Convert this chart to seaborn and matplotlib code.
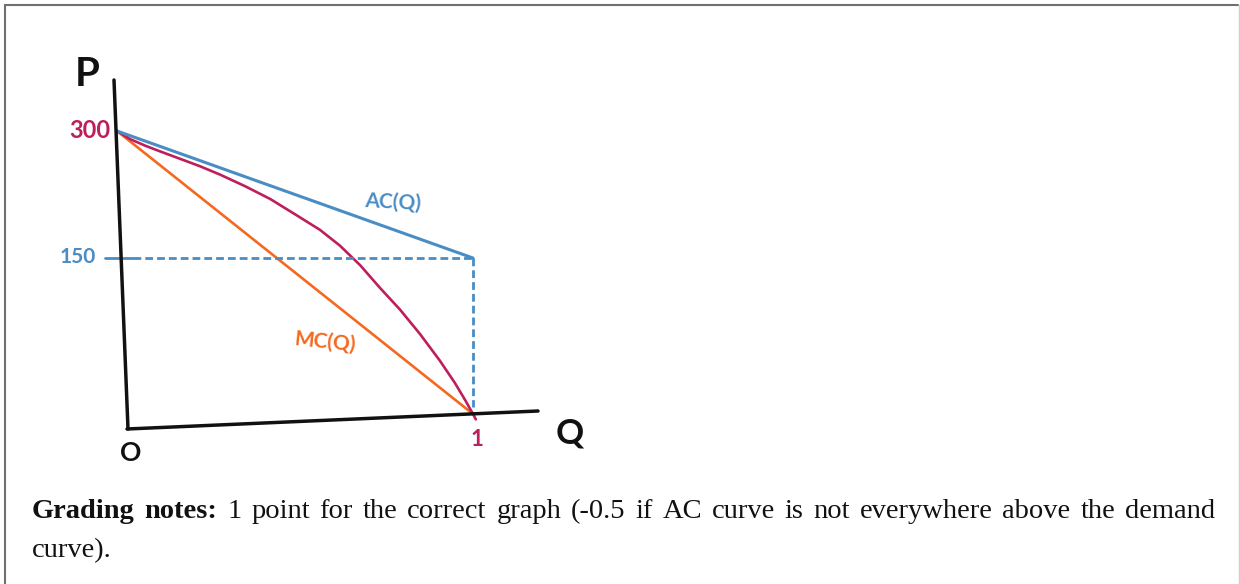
import numpy as np
import pandas as pd
import matplotlib
matplotlib.use("Agg")
import matplotlib.pyplot as plt
import matplotlib.transforms as mtransforms
import seaborn as sns

# ---- data: price P against quantity Q ----
mc_q = [0.0, 1.0]
mc_p = [300, 0]

ac_q = [0.0, 1.0]
ac_p = [300, 150]

demand_q = [0.0, 0.037, 0.079, 0.121, 0.177, 0.233, 0.289, 0.360, 0.430,
            0.500, 0.570, 0.626, 0.683, 0.739, 0.795, 0.851, 0.907, 0.949,
            0.978, 1.0, 1.008]
demand_p = [300, 290, 282, 275, 266, 257, 247, 233, 218,
            200, 182, 164, 142, 117, 94, 69, 43, 23,
            9, 0, -3]

price_tick_values = [300, 150]
price_tick_labels = ["300", "150"]
quantity_tick_value = 1
quantity_tick_label = "1"
origin_label = "O"
p_axis_label = "P"
q_axis_label = "Q"
ac_label = "AC(Q)"
mc_label = "MC(Q)"

note_bold = "Grading notes:"
note_line1 = "1 point for the correct graph (-0.5 if AC curve is not everywhere above the demand"
note_line2 = "curve)."

# ---- style ----
sns.set_style("white")
plt.rcParams["font.family"] = ["Lato", "DejaVu Sans"]
plt.rcParams["lines.scale_dashes"] = False

BLUE = "#4A8CC4"
MAGENTA = "#BE1F5C"
ORANGE = "#F4691F"
BLACK = "#111111"

W, H = 1240, 584
fig = plt.figure(figsize=(W / 100, H / 100), dpi=100)
fig.patch.set_facecolor("white")

# pixel coordinates (origin top-left) for layout elements
px = mtransforms.Affine2D().scale(1 / W, -1 / H).translate(0, 1) + fig.transFigure

ax = fig.add_axes([0, 0, 1, 1])
ax.set_facecolor("none")

# slightly compressed price scale for the hand-drawn look
p_exp = 0.8594


def p_forward(p):
    p = np.asarray(p, dtype=float)
    return np.sign(p) * np.abs(p / 300.0) ** p_exp


def p_inverse(g):
    g = np.asarray(g, dtype=float)
    return np.sign(g) * 300.0 * np.abs(g) ** (1.0 / p_exp)


ax.set_yscale("function", functions=(p_forward, p_inverse))

# curves
sns.lineplot(x=mc_q, y=mc_p, ax=ax, color=ORANGE, linewidth=1.9,
             estimator=None, sort=False, solid_capstyle="round")
sns.lineplot(x=demand_q, y=demand_p, ax=ax, color=MAGENTA, linewidth=1.9,
             estimator=None, sort=False, solid_capstyle="round",
             solid_joinstyle="round")
sns.lineplot(x=ac_q, y=ac_p, ax=ax, color=BLUE, linewidth=2.2,
             estimator=None, sort=False, solid_capstyle="round")

# dashed guides at AC(1) = 150
guide_p = price_tick_values[1]
sns.lineplot(x=[0.045, ac_q[1]], y=[guide_p, guide_p], ax=ax, color=BLUE,
             linewidth=2.0, estimator=None, sort=False)
ax.lines[-1].set_dashes([5.6, 2.9])
sns.lineplot(x=[ac_q[1], ac_q[1]], y=[guide_p, 4], ax=ax, color=BLUE,
             linewidth=2.0, estimator=None, sort=False)
ax.lines[-1].set_dashes([5.6, 2.9])
# short solid tick on the price axis
sns.lineplot(x=[-0.035, 0.045], y=[guide_p, guide_p], ax=ax, color=BLUE,
             linewidth=2.0, estimator=None, sort=False, solid_capstyle="round")

ax.set_xlim((0 - 117) / 356, (W - 117) / 356)
ax.set_ylim(float(p_inverse((414 - H) / 283)), float(p_inverse(414 / 283)))
ax.axis("off")
if ax.get_legend() is not None:
    ax.get_legend().remove()

# hand-drawn axes
ax.plot([114, 128], [80, 429], transform=px, color=BLACK, lw=2.5,
        solid_capstyle="round", clip_on=False)
ax.plot([127, 538], [429, 411], transform=px, color=BLACK, lw=2.5,
        solid_capstyle="round", clip_on=False)

pt = 0.72  # points per pixel at 100 dpi

# tick labels anchored to their values
ax.annotate(price_tick_labels[0], xy=(0, price_tick_values[0]),
            xytext=(-27 * pt, 0), textcoords="offset points",
            ha="center", va="center", color=MAGENTA, fontsize=17,
            fontweight="bold")
ax.annotate(price_tick_labels[1], xy=(0, price_tick_values[1]),
            xytext=(-39 * pt, 1 * pt), textcoords="offset points",
            ha="center", va="center", color=BLUE, fontsize=15,
            fontweight="bold")
ax.annotate(quantity_tick_label, xy=(quantity_tick_value, 0),
            xytext=(4 * pt, -26 * pt), textcoords="offset points",
            ha="center", va="center", color=MAGENTA, fontsize=16,
            fontweight="bold")

# axis names and curve labels
ax.text(87, 75, p_axis_label, transform=px, ha="center", va="center",
        color=BLACK, fontsize=29, fontweight="bold")
ax.text(570, 433, q_axis_label, transform=px, ha="center", va="center",
        color=BLACK, fontsize=25, fontweight="bold")
ax.text(131, 453, origin_label, transform=px, ha="center", va="center",
        color=BLACK, fontsize=19, fontweight="bold")
ax.text(393, 202, ac_label, transform=px, ha="center", va="center",
        color=BLUE, fontsize=15, fontweight="bold", rotation=-3)
ax.text(325, 342, mc_label, transform=px, ha="center", va="center",
        color=ORANGE, fontsize=15, fontweight="bold", rotation=-6)

# frame around the figure
ax.plot([4.5, 4.5, 1238], [H + 5, 5, 5], transform=px, color="#707070",
        lw=1.5, clip_on=False, solid_joinstyle="miter")
ax.plot([1238.5, 1238.5], [5, H + 5], transform=px, color="#cfcfcf",
        lw=1.0, clip_on=False)

# justified note text
serif = ["Liberation Serif", "DejaVu Serif"]
note_size = 20.5
renderer = fig.canvas.get_renderer()


def place_line(words, left, right, baseline, justify=True):
    items = []
    for w, bold in words:
        t = fig.text(0, 0, w, transform=px, fontsize=note_size, family=serif,
                     fontweight="bold" if bold else "normal",
                     va="baseline", ha="left", color="#111111")
        items.append(t)
    widths = [t.get_window_extent(renderer).width for t in items]
    if justify and len(items) > 1:
        gap = (right - left - sum(widths)) / (len(items) - 1)
    else:
        gap = 0
    x = left
    for t, w in zip(items, widths):
        t.set_position((x, baseline))
        x += w + gap


line1 = [(w, True) for w in note_bold.split()] + [(w, False) for w in note_line1.split()]
place_line(line1, 32, 1215, 518)
place_line([(note_line2, False)], 32, 1215, 557, justify=False)

fig.savefig("out.png", dpi=100, facecolor="white")
